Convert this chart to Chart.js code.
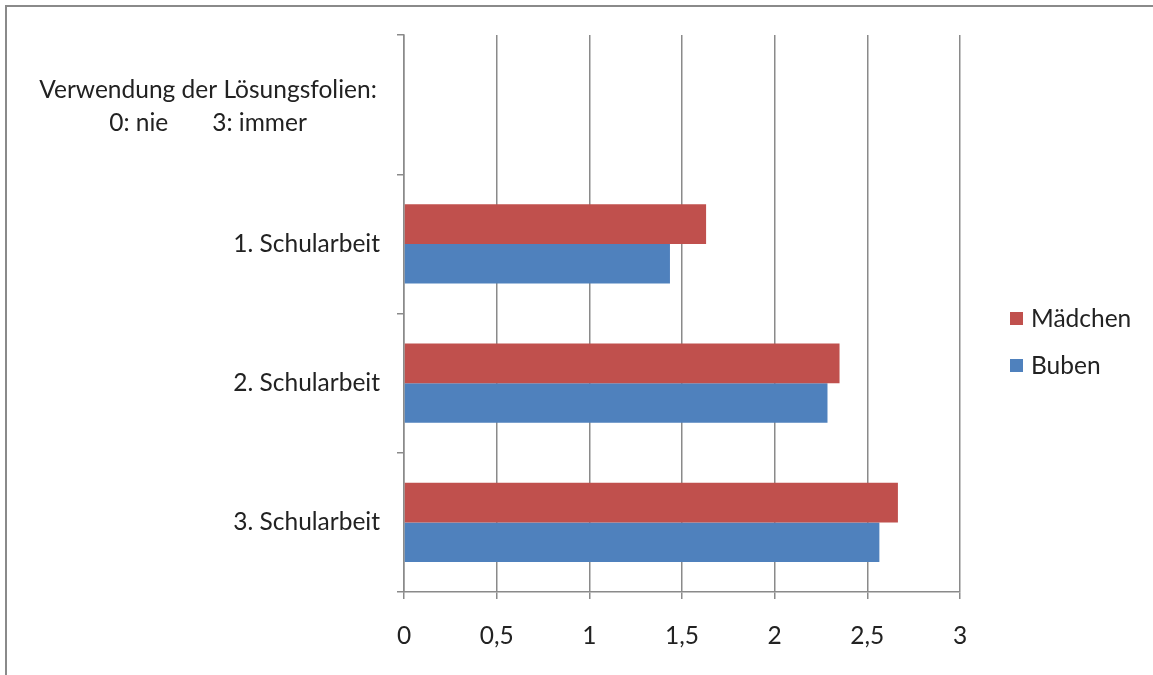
<!DOCTYPE html>
<html>
<head>
<meta charset="utf-8">
<script src="https://cdn.jsdelivr.net/npm/chart.js@4/dist/chart.umd.min.js"></script>
<style>
    body { margin: 0; background: #fff; overflow: hidden; }
    #wrap { position: relative; width: 1153px; height: 675px; }
    #frame {
        position: absolute; left: 5px; top: 5px; width: 1300px; height: 900px;
        border: 2px solid #8a8a8a; pointer-events: none;
    }
</style>
</head>
<body>
<div id="wrap">
    <canvas id="chart" width="1153" height="675"></canvas>
    <div id="frame"></div>
</div>
<script>
    // data
    const categories = ['', '1. Schularbeit', '2. Schularbeit', '3. Schularbeit'];
    const headerLines = ['Verwendung der Lösungsfolien:', '0: nie       3: immer'];
    const maedchen = [null, 1.63, 2.35, 2.665];
    const buben = [null, 1.435, 2.285, 2.565];
    const xTicks = [0, 0.5, 1, 1.5, 2, 2.5, 3];

    const fontFamily = 'Lato, "Open Sans", sans-serif';
    const fontSize = 24.5;
    const gray = '#8a8a8a';

    // header text in the empty top row + legend on the right
    const extras = {
        id: 'extras',
        afterDraw(chart) {
            const ctx = chart.ctx;
            const y = chart.scales.y;
            const cy = y.getPixelForValue(0);
            ctx.save();
            ctx.fillStyle = '#222';
            ctx.font = fontSize + 'px ' + fontFamily;
            ctx.textAlign = 'center';
            ctx.textBaseline = 'middle';
            ctx.fillText(headerLines[0], 208, cy - 15);
            ctx.fillText(headerLines[1], 208, cy + 18);

            // legend
            const legendY = [319, 366];
            ctx.textAlign = 'left';
            chart.data.datasets.forEach(function (ds, i) {
                ctx.fillStyle = ds.backgroundColor;
                ctx.fillRect(1010, legendY[i] - 7, 13, 13);
                ctx.fillStyle = '#222';
                ctx.fillText(ds.label, 1031, legendY[i]);
            });
            ctx.restore();
        }
    };

    const ctx = document.getElementById('chart').getContext('2d');
    const chart = new Chart(ctx, {
        type: 'bar',
        data: {
            labels: categories,
            datasets: [{
                label: 'Mädchen',
                data: maedchen,
                backgroundColor: '#C0504D',
                categoryPercentage: 0.57,
                barPercentage: 1.0
            }, {
                label: 'Buben',
                data: buben,
                backgroundColor: '#4F81BD',
                categoryPercentage: 0.57,
                barPercentage: 1.0
            }]
        },
        options: {
            indexAxis: 'y',
            responsive: false,
            animation: false,
            layout: {
                padding: { left: 0, top: 35, right: 193, bottom: 0 }
            },
            plugins: {
                legend: { display: false },
                tooltip: { enabled: false }
            },
            scales: {
                x: {
                    min: 0,
                    max: 3,
                    afterBuildTicks: function (scale) {
                        scale.ticks = xTicks.map(function (v) { return { value: v }; });
                    },
                    afterFit: function (scale) {
                        scale.height = 83;
                    },
                    grid: { color: gray, tickLength: 7, lineWidth: 1.5 },
                    border: { color: gray, width: 1.5 },
                    ticks: {
                        color: '#222',
                        padding: 22,
                        font: { size: fontSize, family: fontFamily },
                        callback: function (value) {
                            return String(value).replace('.', ',');
                        }
                    }
                },
                y: {
                    afterFit: function (scale) {
                        scale.width = 404;
                    },
                    grid: {
                        color: gray,
                        drawOnChartArea: false,
                        tickLength: 7,
                        lineWidth: 1.5,
                        offset: true
                    },
                    border: { color: gray, width: 1.5 },
                    ticks: {
                        color: '#222',
                        padding: 17,
                        font: { size: fontSize, family: fontFamily }
                    }
                }
            }
        },
        plugins: [extras]
    });
</script>
</body>
</html>
